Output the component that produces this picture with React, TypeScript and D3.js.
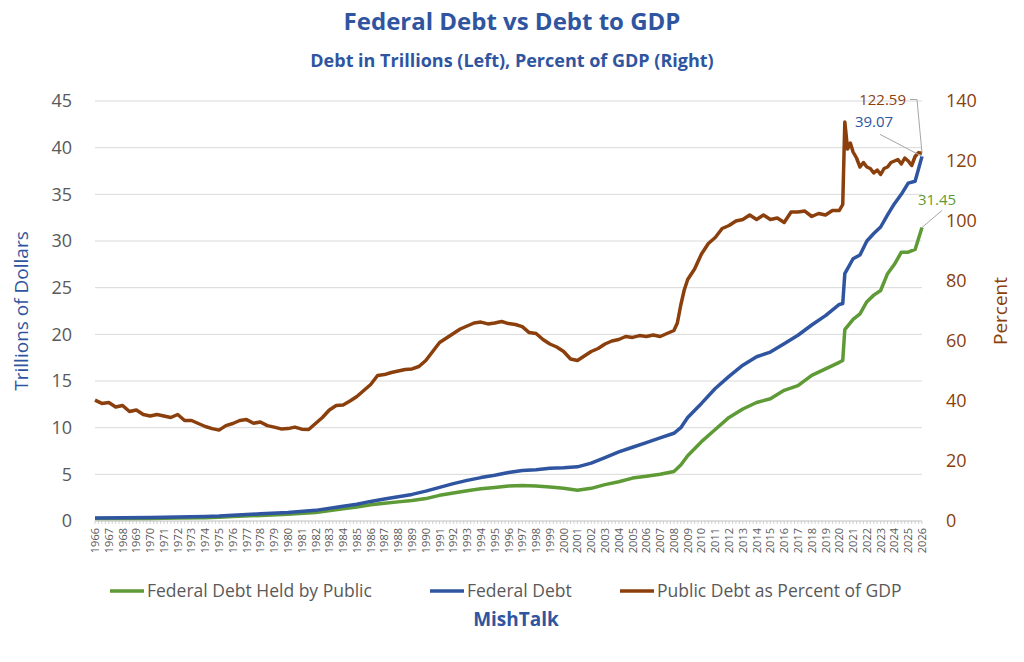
import React from "react";
import * as d3 from "d3";

const WIDTH = 1024;
const HEIGHT = 662;
const MARGIN = { top: 101, right: 102, bottom: 141, left: 95 };

const YEARS = d3.range(1966, 2027);
const LEFT_TICKS = [0, 5, 10, 15, 20, 25, 30, 35, 40, 45];
const RIGHT_TICKS = [0, 20, 40, 60, 80, 100, 120, 140];

// [year, percent of GDP]
const pctGdp: [number, number][] = [
  [1966, 40.3], [1966.5, 39.2], [1967, 39.5], [1967.5, 38], [1968, 38.5], [1968.5, 36.5], [1969, 37], [1969.5, 35.5],
  [1970, 35], [1970.5, 35.5], [1971, 35], [1971.5, 34.5], [1972, 35.5], [1972.5, 33.5], [1973, 33.5], [1973.5, 32.5],
  [1974, 31.5], [1974.5, 30.8], [1975, 30.3], [1975.5, 31.8], [1976, 32.5], [1976.5, 33.5], [1977, 33.8], [1977.5, 32.6],
  [1978, 33], [1978.5, 31.8], [1979, 31.3], [1979.5, 30.7], [1980, 30.8], [1980.5, 31.3], [1981, 30.6], [1981.5, 30.5],
  [1982, 32.5], [1982.5, 34.5], [1983, 37], [1983.5, 38.5], [1984, 38.7], [1984.5, 40], [1985, 41.5], [1985.5, 43.5],
  [1986, 45.5], [1986.5, 48.5], [1987, 48.8], [1987.5, 49.5], [1988, 50], [1988.5, 50.5], [1989, 50.7], [1989.5, 51.5],
  [1990, 53.5], [1990.5, 56.5], [1991, 59.5], [1991.5, 61], [1992, 62.5], [1992.5, 64], [1993, 65], [1993.5, 66],
  [1994, 66.3], [1994.5, 65.7], [1995, 66], [1995.5, 66.5], [1996, 65.8], [1996.5, 65.5], [1997, 64.8], [1997.5, 62.8],
  [1998, 62.5], [1998.5, 60.5], [1999, 59], [1999.5, 58], [2000, 56.5], [2000.5, 54], [2001, 53.5], [2001.5, 55],
  [2002, 56.5], [2002.5, 57.5], [2003, 59], [2003.5, 60], [2004, 60.5], [2004.5, 61.5], [2005, 61.2], [2005.5, 61.8],
  [2006, 61.5], [2006.5, 62], [2007, 61.5], [2007.5, 62.5], [2008, 63.5], [2008.25, 66], [2008.5, 72], [2008.75, 77],
  [2009, 80.5], [2009.5, 84], [2010, 89], [2010.5, 92.5], [2011, 94.5], [2011.5, 97.5], [2012, 98.5], [2012.5, 100],
  [2013, 100.5], [2013.5, 102], [2014, 100.5], [2014.5, 102], [2015, 100.5], [2015.5, 101], [2016, 99.5], [2016.5, 103],
  [2017, 103], [2017.5, 103.3], [2018, 101.5], [2018.5, 102.5], [2019, 102], [2019.5, 103.5], [2020, 103.5], [2020.25, 105.5],
  [2020.4, 133], [2020.6, 124], [2020.8, 126], [2021, 123], [2021.25, 121], [2021.5, 118], [2021.75, 119.5], [2022, 118],
  [2022.25, 117.5], [2022.5, 116], [2022.75, 117], [2023, 115.5], [2023.25, 117.5], [2023.5, 118], [2023.75, 119.5], [2024, 120],
  [2024.25, 120.5], [2024.5, 119], [2024.75, 121], [2025, 120], [2025.25, 118.5], [2025.5, 121.5], [2025.75, 122.8], [2026, 122.59],
];

// [year, trillions]
const federalDebt: [number, number][] = [
  [1966, 0.32], [1968, 0.36], [1970, 0.38], [1972, 0.43], [1974, 0.48], [1975, 0.53], [1976, 0.62], [1978, 0.77],
  [1980, 0.9], [1982, 1.14], [1984, 1.57], [1985, 1.8], [1986, 2.1], [1987, 2.35], [1988, 2.6], [1989, 2.85],
  [1990, 3.2], [1991, 3.6], [1992, 4.0], [1993, 4.35], [1994, 4.65], [1995, 4.9], [1996, 5.2], [1997, 5.4],
  [1998, 5.5], [1999, 5.65], [2000, 5.7], [2001, 5.8], [2002, 6.2], [2003, 6.8], [2004, 7.4], [2005, 7.9],
  [2006, 8.4], [2007, 8.9], [2008, 9.4], [2008.5, 10.0], [2009, 11.1], [2010, 12.6], [2011, 14.2], [2012, 15.5],
  [2013, 16.7], [2014, 17.6], [2015, 18.1], [2016, 19.0], [2017, 19.9], [2018, 21.0], [2019, 22.0], [2020, 23.2],
  [2020.25, 23.3], [2020.4, 26.5], [2021, 28.1], [2021.5, 28.5], [2022, 30.0], [2022.5, 30.8], [2023, 31.5], [2023.5, 32.8],
  [2024, 34.0], [2024.5, 35.0], [2025, 36.2], [2025.5, 36.4], [2026, 39.07],
];

const publicDebt: [number, number][] = [
  [1966, 0.26], [1968, 0.27], [1970, 0.28], [1972, 0.32], [1974, 0.34], [1975, 0.39], [1976, 0.48], [1978, 0.6],
  [1980, 0.71], [1982, 0.92], [1984, 1.3], [1985, 1.5], [1986, 1.74], [1987, 1.9], [1988, 2.05], [1989, 2.2],
  [1990, 2.4], [1991, 2.75], [1992, 3.0], [1993, 3.25], [1994, 3.45], [1995, 3.6], [1996, 3.75], [1997, 3.8],
  [1998, 3.75], [1999, 3.65], [2000, 3.5], [2001, 3.3], [2002, 3.5], [2003, 3.9], [2004, 4.2], [2005, 4.6],
  [2006, 4.8], [2007, 5.0], [2008, 5.3], [2008.5, 6.0], [2009, 7.0], [2010, 8.5], [2011, 9.8], [2012, 11.1],
  [2013, 12.0], [2014, 12.7], [2015, 13.1], [2016, 14.0], [2017, 14.5], [2018, 15.6], [2019, 16.3], [2020, 17.0],
  [2020.25, 17.2], [2020.4, 20.5], [2021, 21.6], [2021.5, 22.2], [2022, 23.5], [2022.5, 24.2], [2023, 24.7], [2023.5, 26.5],
  [2024, 27.5], [2024.5, 28.8], [2025, 28.8], [2025.5, 29.1], [2026, 31.45],
];

const GREEN = "#5e9a36";
const BLUE = "#2f55a0";
const BROWN = "#8b3f0c";
const FONT = "'Open Sans', sans-serif";

export default function App() {
  const bw = WIDTH - MARGIN.left - MARGIN.right;
  const bh = HEIGHT - MARGIN.top - MARGIN.bottom;
  const x = d3.scaleLinear().domain([1966, 2026]).range([0, bw]);
  const yL = d3.scaleLinear().domain([0, 45]).range([bh, 0]);
  const yR = d3.scaleLinear().domain([0, 140]).range([bh, 0]);

  const lineL = d3.line<[number, number]>().x((d) => x(d[0])).y((d) => yL(d[1]));
  const lineR = d3.line<[number, number]>().x((d) => x(d[0])).y((d) => yR(d[1]));
  const ex = x(2026);

  return (
    <svg width={WIDTH} height={HEIGHT} style={{ position: "absolute", left: 0, top: 0, fontFamily: FONT }}>
      <rect width={WIDTH} height={HEIGHT} fill="#fff" />
      <text x={512} y={30} textAnchor="middle" fontSize={24} fontWeight="bold" fill={BLUE}>Federal Debt vs Debt to GDP</text>
      <text x={512} y={67} textAnchor="middle" fontSize={18} fontWeight="bold" fill={BLUE}>Debt in Trillions (Left), Percent of GDP (Right)</text>
      <g transform={`translate(${MARGIN.left},${MARGIN.top})`}>
        {LEFT_TICKS.map((t) => (
          <g key={t}>
            {t > 0 && <line x1={0} x2={bw} y1={yL(t)} y2={yL(t)} stroke="#d9d9d9" />}
            <text x={-23} y={yL(t)} dy="0.35em" textAnchor="end" fontSize={18} fill="#595959">{t}</text>
          </g>
        ))}
        {RIGHT_TICKS.map((t) => (
          <text key={t} x={bw + 24} y={yR(t)} dy="0.35em" fontSize={18} fill={BROWN}>{t}</text>
        ))}
        <line x1={0} x2={bw} y1={bh} y2={bh} stroke="#bfbfbf" />
        {d3.range(1966, 2026.01, 0.25).map((t) => (
          <line key={t} x1={x(t)} x2={x(t)} y1={bh} y2={bh + 3} stroke="#bfbfbf" strokeWidth={0.7} />
        ))}
        {YEARS.map((yr) => (
          <text key={yr} transform={`translate(${x(yr) + 4},${bh + 7}) rotate(-90)`} textAnchor="end" fontSize={11} fill="#595959">{yr}</text>
        ))}
        <path d={lineL(publicDebt)!} fill="none" stroke={GREEN} strokeWidth={3.5} strokeLinejoin="round" />
        <path d={lineL(federalDebt)!} fill="none" stroke={BLUE} strokeWidth={3.5} strokeLinejoin="round" />
        <path d={lineR(pctGdp)!} fill="none" stroke={BROWN} strokeWidth={3.5} strokeLinejoin="round" />
        {/* callouts */}
        <polyline points={`${ex},${yR(122.59)} ${ex - 5},${yR(140.5)} ${ex - 12},${yR(140.5)}`} fill="none" stroke="#a6a6a6" />
        <text x={ex - 16} y={yR(140.5)} dy="0.35em" textAnchor="end" fontSize={15} fill={BROWN}>122.59</text>
        <line x1={ex} x2={ex - 42} y1={yL(39.07)} y2={yL(39.07) - 22} stroke="#a6a6a6" />
        <text x={ex - 48} y={yL(39.07) - 29} textAnchor="middle" fontSize={15} fill={BLUE}>39.07</text>
        <line x1={ex} x2={ex + 20} y1={yL(31.45)} y2={yL(31.45) - 17} stroke="#a6a6a6" />
        <text x={ex + 15} y={yL(31.45) - 22} textAnchor="middle" fontSize={15} fill={GREEN}>31.45</text>
        <text transform={`translate(-67,${bh / 2}) rotate(-90)`} textAnchor="middle" fontSize={19} fill={BLUE}>Trillions of Dollars</text>
        <text transform={`translate(${bw + 85},${bh / 2}) rotate(-90)`} textAnchor="middle" fontSize={19} fill={BROWN}>Percent</text>
      </g>
      {[
        { label: "Federal Debt Held by Public", color: GREEN, x: 110 },
        { label: "Federal Debt", color: BLUE, x: 430 },
        { label: "Public Debt as Percent of GDP", color: BROWN, x: 620 },
      ].map((l) => (
        <g key={l.label}>
          <line x1={l.x} x2={l.x + 34} y1={591} y2={591} stroke={l.color} strokeWidth={3.5} />
          <text x={l.x + 37} y={591} dy="0.35em" fontSize={17.5} fill="#595959">{l.label}</text>
        </g>
      ))}
      <text x={516} y={626} textAnchor="middle" fontSize={19} fontWeight="bold" fill={BLUE}>MishTalk</text>
    </svg>
  );
}
